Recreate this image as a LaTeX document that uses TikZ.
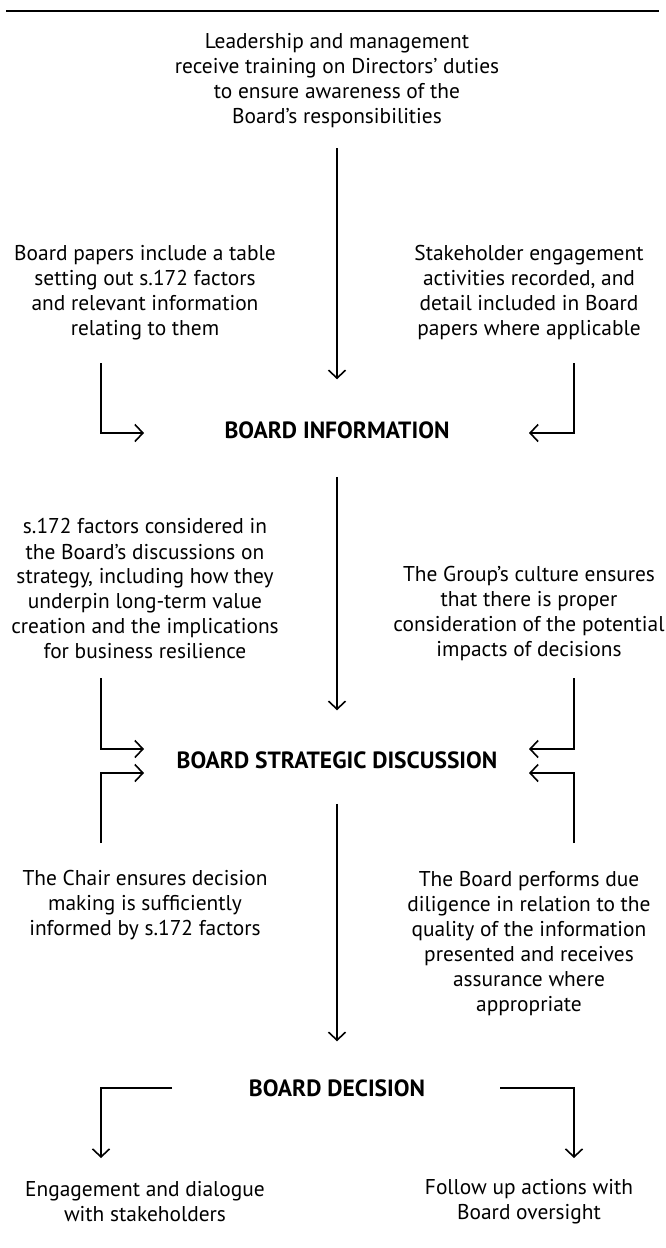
\documentclass[tikz,border=0pt]{standalone}
\usepackage{fontspec}
\setmainfont{PT Sans}
\usetikzlibrary{arrows.meta}
\begin{document}
\begin{tikzpicture}
    [
    x=1pt, y=-1pt,
    every node/.style={align=center, inner sep=0pt, font=\fontsize{21.4}{25}\selectfont},
    heading/.style={font=\fontsize{23.5}{25}\selectfont\bfseries},
    link/.style={line width=1.6pt, -{Straight Barb[length=8pt,width=17pt,line width=1.6pt]}},
    ]
    \useasboundingbox (0,0) rectangle (665,1248);
    \draw[line width=1.5pt] (6,11) -- (659,11);

    \node (lead) at (337,81) {Leadership and management\\receive training on Directors' duties\\to ensure awareness of the\\Board's responsibilities};
    \node (papers) at (145,293) {Board papers include a table\\setting out s.172 factors\\and relevant information\\relating to them};
    \node (engage) at (529,293) {Stakeholder engagement\\activities recorded, and\\detail included in Board\\papers where applicable};
    \node[heading] (info) at (337,430) {BOARD INFORMATION};
    \node (factors) at (145,589) {s.172 factors considered in\\the Board's discussions on\\strategy, including how they\\underpin long-term value\\creation and the implications\\for business resilience};
    \node (culture) at (529,614) {The Group's culture ensures\\that there is proper\\consideration of the potential\\impacts of decisions};
    \node[heading] (strat) at (337,760) {BOARD STRATEGIC DISCUSSION};
    \node (chair) at (145,905) {The Chair ensures decision\\making is sufficiently\\informed by s.172 factors};
    \node (diligence) at (529,944) {The Board performs due\\diligence in relation to the\\quality of the information\\presented and receives\\assurance where\\appropriate};
    \node[heading] (decision) at (337,1088) {BOARD DECISION};
    \node (dialogue) at (145,1202) {Engagement and dialogue\\with stakeholders};
    \node (follow) at (529,1202) {Follow up actions with\\Board oversight};

    \coordinate (papersL) at (101,363);
    \coordinate (infoL) at (144,433);
    \coordinate (engageR) at (574,363);
    \coordinate (infoR) at (529,433);
    \coordinate (factorsL) at (101,678);
    \coordinate (stratLa) at (144,749);
    \coordinate (cultureR) at (574,678);
    \coordinate (stratRa) at (529,749);
    \coordinate (chairL) at (101,843);
    \coordinate (stratLb) at (144,773);
    \coordinate (diligenceR) at (574,843);
    \coordinate (stratRb) at (529,773);
    \coordinate (decisionL) at (172,1088);
    \coordinate (dialogueT) at (101,1158);
    \coordinate (decisionR) at (500,1088);
    \coordinate (followT) at (574,1158);

    \draw[link, shorten <=20pt, shorten >=42pt] (lead) -- (info);
    \draw[link, shorten <=38pt, shorten >=41pt] (info) -- (strat);
    \draw[link, shorten <=35pt, shorten >=38pt] (strat) -- (decision);

    \draw[link] (papersL) |- (infoL);
    \draw[link] (engageR) |- (infoR);
    \draw[link] (factorsL) |- (stratLa);
    \draw[link] (cultureR) |- (stratRa);
    \draw[link] (chairL) |- (stratLb);
    \draw[link] (diligenceR) |- (stratRb);
    \draw[link] (decisionL) -| (dialogueT);
    \draw[link] (decisionR) -| (followT);
\end{tikzpicture}
\end{document}
